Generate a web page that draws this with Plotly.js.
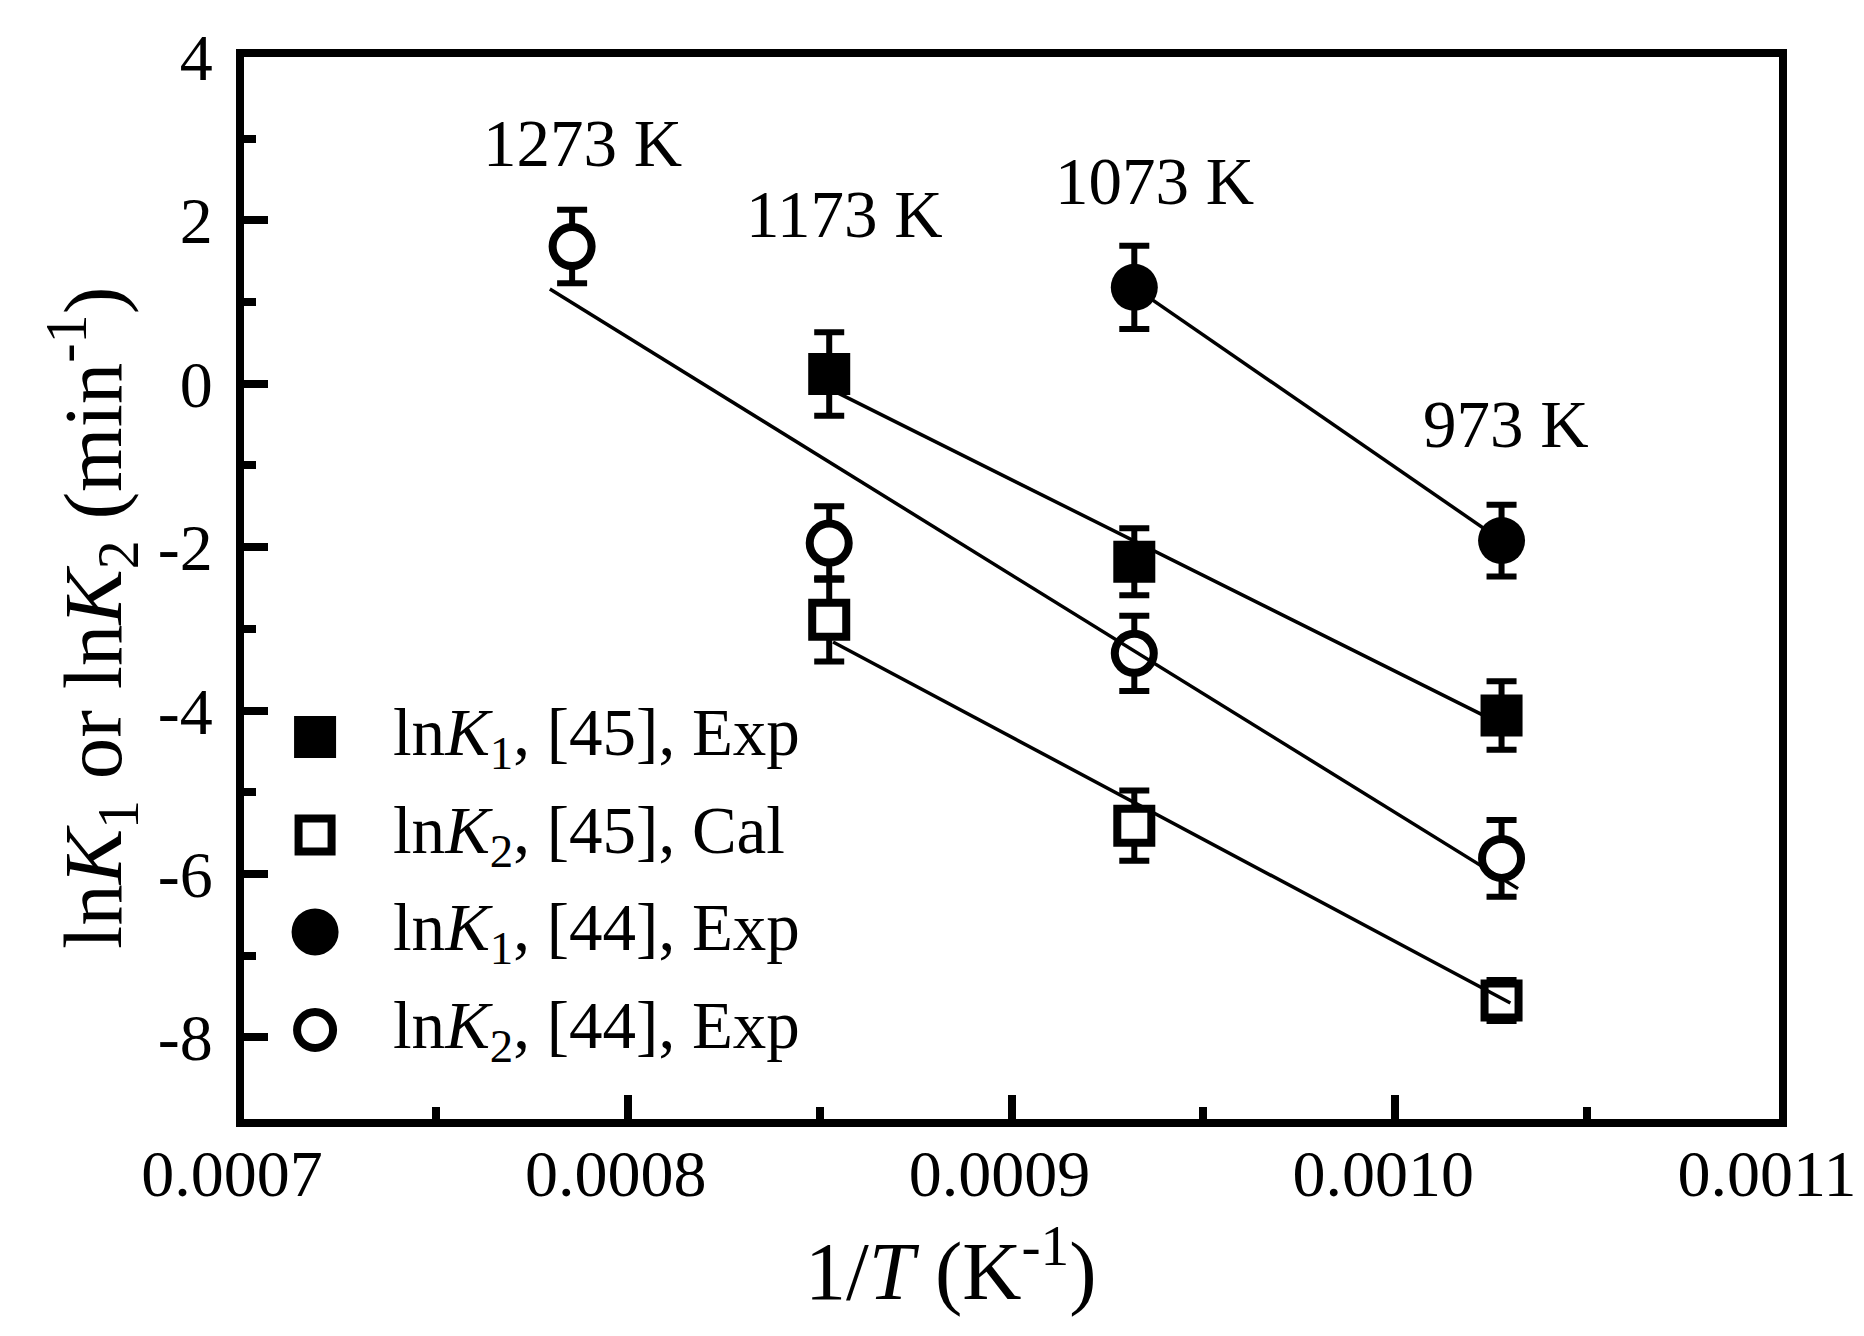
<!DOCTYPE html>
<html>
<head>
<meta charset="utf-8">
<script src="https://cdn.plot.ly/plotly-3.0.1.min.js"></script>
<style>
  html, body {margin: 0; padding: 0; background: #fff;}
</style>
</head>
<body>
<div id="chart" style="width:1864px;height:1336px;"></div>
<script>
// temperatures and their inverse (1/T, K^-1)
const temps = [1273, 1173, 1073, 973];
const invT = [0.0007855, 0.0008525, 0.0009320, 0.0010277];

// lnK1, ref [45], experiment (1173, 1073, 973 K)
const k1_45_x = [0.0008525, 0.0009320, 0.0010277];
const k1_45_y = [0.12, -2.18, -4.06];
const k1_45_err = [0.51, 0.41, 0.42];

// lnK2, ref [45], calculated
const k2_45_x = [0.0008525, 0.0009320, 0.0010277];
const k2_45_y = [-2.89, -5.41, -7.55];
const k2_45_err = [0.51, 0.43, 0.25];

// lnK1, ref [44], experiment (1073, 973 K)
const k1_44_x = [0.0009320, 0.0010277];
const k1_44_y = [1.18, -1.92];
const k1_44_err = [0.51, 0.44];

// lnK2, ref [44], experiment (1273 .. 973 K)
const k2_44_x = [0.0007855, 0.0008525, 0.0009320, 0.0010277];
const k2_44_y = [1.68, -1.95, -3.30, -5.81];
const k2_44_err = [0.45, 0.45, 0.46, 0.47];

// linear fits (end points)
const fit_k1_45_x = [0.0008525, 0.0010277];
const fit_k1_45_y = [-0.06, -4.17];
const fit_k2_45_x = [0.0008535, 0.0010300];
const fit_k2_45_y = [-3.16, -7.58];
const fit_k1_44_x = [0.0009320, 0.0010277];
const fit_k1_44_y = [1.18, -1.92];
const fit_k2_44_x = [0.0007797, 0.0010320];
const fit_k2_44_y = [1.16, -6.18];

const tempLabels = ['1273 K', '1173 K', '1073 K', '973 K'];
const tempLabelY = [2.95, 2.08, 2.48, -0.49];

const legendLabels = [
  'ln<i>K</i><sub>1</sub>, [45], Exp',
  'ln<i>K</i><sub>2</sub>, [45], Cal',
  'ln<i>K</i><sub>1</sub>, [44], Exp',
  'ln<i>K</i><sub>2</sub>, [44], Exp'
];

const xTitle = '1/<i>T</i> (K<sup>-1</sup>)';
const yTitle = 'ln<i>K</i><sub>1</sub> or ln<i>K</i><sub>2</sub> (min<sup>-1</sup>)';

const xTickVals = [0.0007, 0.0008, 0.0009, 0.0010, 0.0011];
const xTickText = ['0.0007', '0.0008', '0.0009', '0.0010', '0.0011'];
const yTickVals = [-8, -6, -4, -2, 0, 2, 4];
const yTickText = ['-8', '-6', '-4', '-2', '0', '2', '4'];

const FONT = 'Liberation Serif, Times New Roman, serif';

function fitLine(x, y){
  return {x: x, y: y, mode: 'lines', type: 'scatter', showlegend: false,
          hoverinfo: 'skip', line: {color: '#000', width: 3.5}};
}

// open symbols get a white face so they hide their own error bar stem
function points(x, y, err, symbol, size, face, lw){
  return {
    x: x, y: y, mode: 'markers', type: 'scatter', showlegend: false,
    error_y: {type: 'data', array: err, visible: true, color: '#000', thickness: 6, width: 15},
    marker: {symbol: symbol, size: size, color: face, line: {color: '#000', width: lw}}
  };
}

// markers first, fit lines on top (the lines show through the open symbols)
let data = [
  points(k1_45_x, k1_45_y, k1_45_err, 'square', 42, '#000', 0),
  points(k2_45_x, k2_45_y, k2_45_err, 'square', 34, '#fff', 8),
  points(k1_44_x, k1_44_y, k1_44_err, 'circle', 47, '#000', 0),
  points(k2_44_x, k2_44_y, k2_44_err, 'circle', 39, '#fff', 8),
  fitLine(fit_k1_45_x, fit_k1_45_y),
  fitLine(fit_k2_45_x, fit_k2_45_y),
  fitLine(fit_k1_44_x, fit_k1_44_y),
  fitLine(fit_k2_44_x, fit_k2_44_y)
];

// hand-drawn legend: symbols as pixel-sized shapes, labels as annotations
const legendX = 0.0463, legendTextX = 0.0955;
const legendRowY = [0.3597, 0.2674, 0.1761, 0.0838];
const legendSym = [
  {type: 'rect', half: 21, fill: '#000', lw: 0},
  {type: 'rect', half: 16.5, fill: '#fff', lw: 8},
  {type: 'circle', half: 23.5, fill: '#000', lw: 0},
  {type: 'circle', half: 18, fill: '#fff', lw: 8}
];
let shapes = legendSym.map((s, i) => ({
  type: s.type, xref: 'paper', yref: 'paper',
  xsizemode: 'pixel', ysizemode: 'pixel',
  xanchor: legendX, yanchor: legendRowY[i],
  x0: -s.half, x1: s.half, y0: -s.half, y1: s.half,
  fillcolor: s.fill, line: {color: '#000', width: s.lw}
}));

let annotations = legendLabels.map((t, i) => ({
  text: t, xref: 'paper', yref: 'paper', x: legendTextX, y: legendRowY[i],
  xanchor: 'left', yanchor: 'middle', showarrow: false,
  font: {family: FONT, size: 67, color: '#000'}
}));
const tempShift = [10, 15, 20, 4];
tempLabels.forEach((t, i) => {
  annotations.push({
    text: t, x: invT[i], y: tempLabelY[i], xshift: tempShift[i],
    xanchor: 'center', yanchor: 'middle', showarrow: false,
    font: {family: FONT, size: 67, color: '#000'}
  });
});
// axis titles, placed where the original figure has them
annotations.push({
  text: xTitle, xref: 'paper', yref: 'paper', x: 0.4606, y: -0.1384,
  xanchor: 'center', yanchor: 'middle', showarrow: false,
  font: {family: FONT, size: 82, color: '#000'}
});
annotations.push({
  text: yTitle, xref: 'paper', yref: 'paper', x: -0.0984, y: 0.4718,
  xanchor: 'center', yanchor: 'middle', showarrow: false, textangle: -90,
  font: {family: FONT, size: 83, color: '#000'}
});

let layout = {
  width: 1864, height: 1336,
  margin: {l: 244, r: 85, t: 57, b: 217, pad: 0},
  paper_bgcolor: '#fff', plot_bgcolor: '#fff',
  font: {family: FONT, color: '#000', size: 64},
  showlegend: false,
  xaxis: {
    range: [0.0007, 0.0011],
    tickmode: 'array', tickvals: xTickVals, ticktext: xTickText,
    ticks: 'inside', ticklen: 24, tickwidth: 8, tickcolor: '#000',
    minor: {ticks: 'inside', ticklen: 12, tickwidth: 8, tickcolor: '#000',
            tickmode: 'linear', tick0: 0.00075, dtick: 0.0001},
    showline: true, linewidth: 8, linecolor: '#000', mirror: true,
    showgrid: false, zeroline: false,
    tickfont: {family: FONT, size: 66, color: '#000'},
    ticklabelstandoff: -10, ticklabelshift: -12, ticklabeloverflow: 'allow'
  },
  yaxis: {
    range: [-9, 4],
    tickmode: 'array', tickvals: yTickVals, ticktext: yTickText,
    ticks: 'inside', ticklen: 24, tickwidth: 8, tickcolor: '#000',
    minor: {ticks: 'inside', ticklen: 12, tickwidth: 8, tickcolor: '#000',
            tickmode: 'linear', tick0: -7, dtick: 2},
    showline: true, linewidth: 8, linecolor: '#000', mirror: true,
    showgrid: false, zeroline: false,
    tickfont: {family: FONT, size: 66, color: '#000'},
    ticklabelstandoff: 10
  },
  shapes: shapes,
  annotations: annotations
};

Plotly.newPlot('chart', data, layout, {staticPlot: true, displayModeBar: false});
</script>
</body>
</html>
